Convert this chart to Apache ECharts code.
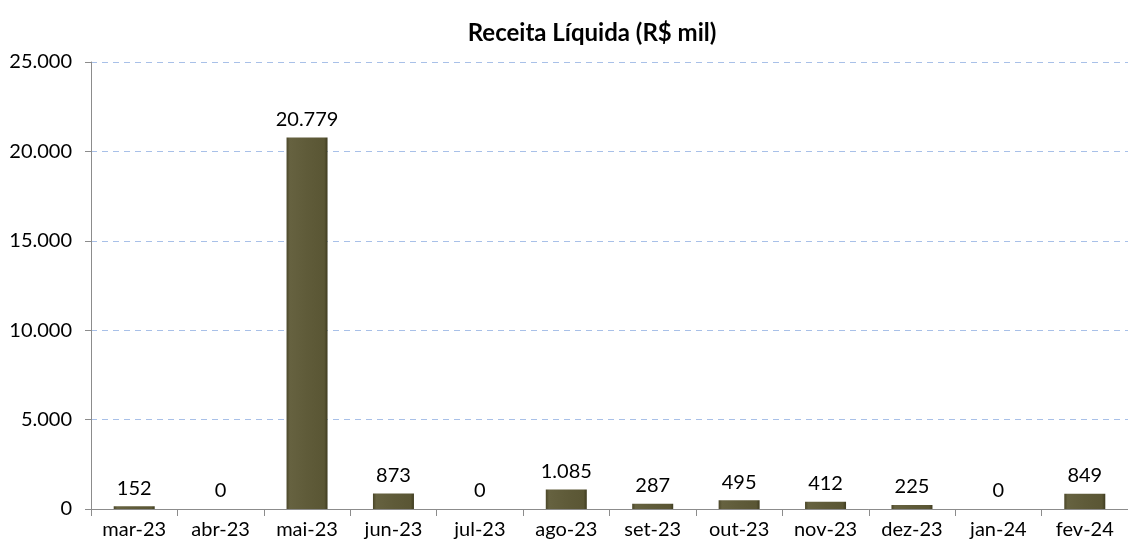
<!DOCTYPE html>
<html><head><meta charset="utf-8">
<script src="https://cdn.jsdelivr.net/npm/echarts@6/dist/echarts.min.js"></script>
<style>html,body{margin:0;padding:0;background:#fff}#c{width:1128px;height:546px}</style>
</head><body><div id="c"></div>
<script>
const categories = ['mar-23','abr-23','mai-23','jun-23','jul-23','ago-23','set-23','out-23','nov-23','dez-23','jan-24','fev-24'];
const receita = [152, 0, 20779, 873, 0, 1085, 287, 495, 412, 225, 0, 849];
const yTicks = {min: 0, max: 25000, interval: 5000};
const titleText = 'Receita Líquida (R$ mil)';

function fmt(v){ return String(Math.round(v)).replace(/\B(?=(\d{3})+(?!\d))/g, '.'); }

const FONT = 'Lato, "Open Sans", sans-serif';
const chart = echarts.init(document.getElementById('c'), null, {renderer:'canvas'});
chart.setOption({
  animation: false,
  title: {text: titleText, left: 587, top: 16, textAlign: 'center',
    textStyle: {fontFamily: FONT, fontSize: 24, fontWeight: 'bold', color: '#000'}},
  grid: {left: 91, top: 62, width: 1044, height: 447, containLabel: false},
  xAxis: {type: 'category', data: categories,
    axisLine: {lineStyle: {color: '#8c8c8c', width: 1}},
    axisTick: {show: true, length: 7, lineStyle: {color: '#8c8c8c'}},
    axisLabel: {color: '#000', fontFamily: FONT, fontSize: 20, margin: 11}},
  yAxis: {type: 'value', min: yTicks.min, max: yTicks.max, interval: yTicks.interval,
    axisLine: {show: true, lineStyle: {color: '#8c8c8c'}},
    axisTick: {show: true, length: 6, lineStyle: {color: '#8c8c8c'}},
    axisLabel: {color: '#000', fontFamily: FONT, fontSize: 20, margin: 19, formatter: fmt},
    splitLine: {lineStyle: {color: '#a8c0e8', type: [6, 5], width: 1}}},
  series: [{type: 'bar', data: receita, barWidth: 41,
    itemStyle: {
      color: new echarts.graphic.LinearGradient(0, 0, 1, 0, [
        {offset: 0, color: '#4a4628'}, {offset: 0.08, color: '#666240'},
        {offset: 0.5, color: '#5f5b39'}, {offset: 0.92, color: '#5a5634'},
        {offset: 1, color: '#3f3c20'}])},
    label: {show: true, position: 'top', distance: 8, color: '#000', fontFamily: FONT, fontSize: 20,
      formatter: p => fmt(p.value)}}]
});
</script></body></html>
